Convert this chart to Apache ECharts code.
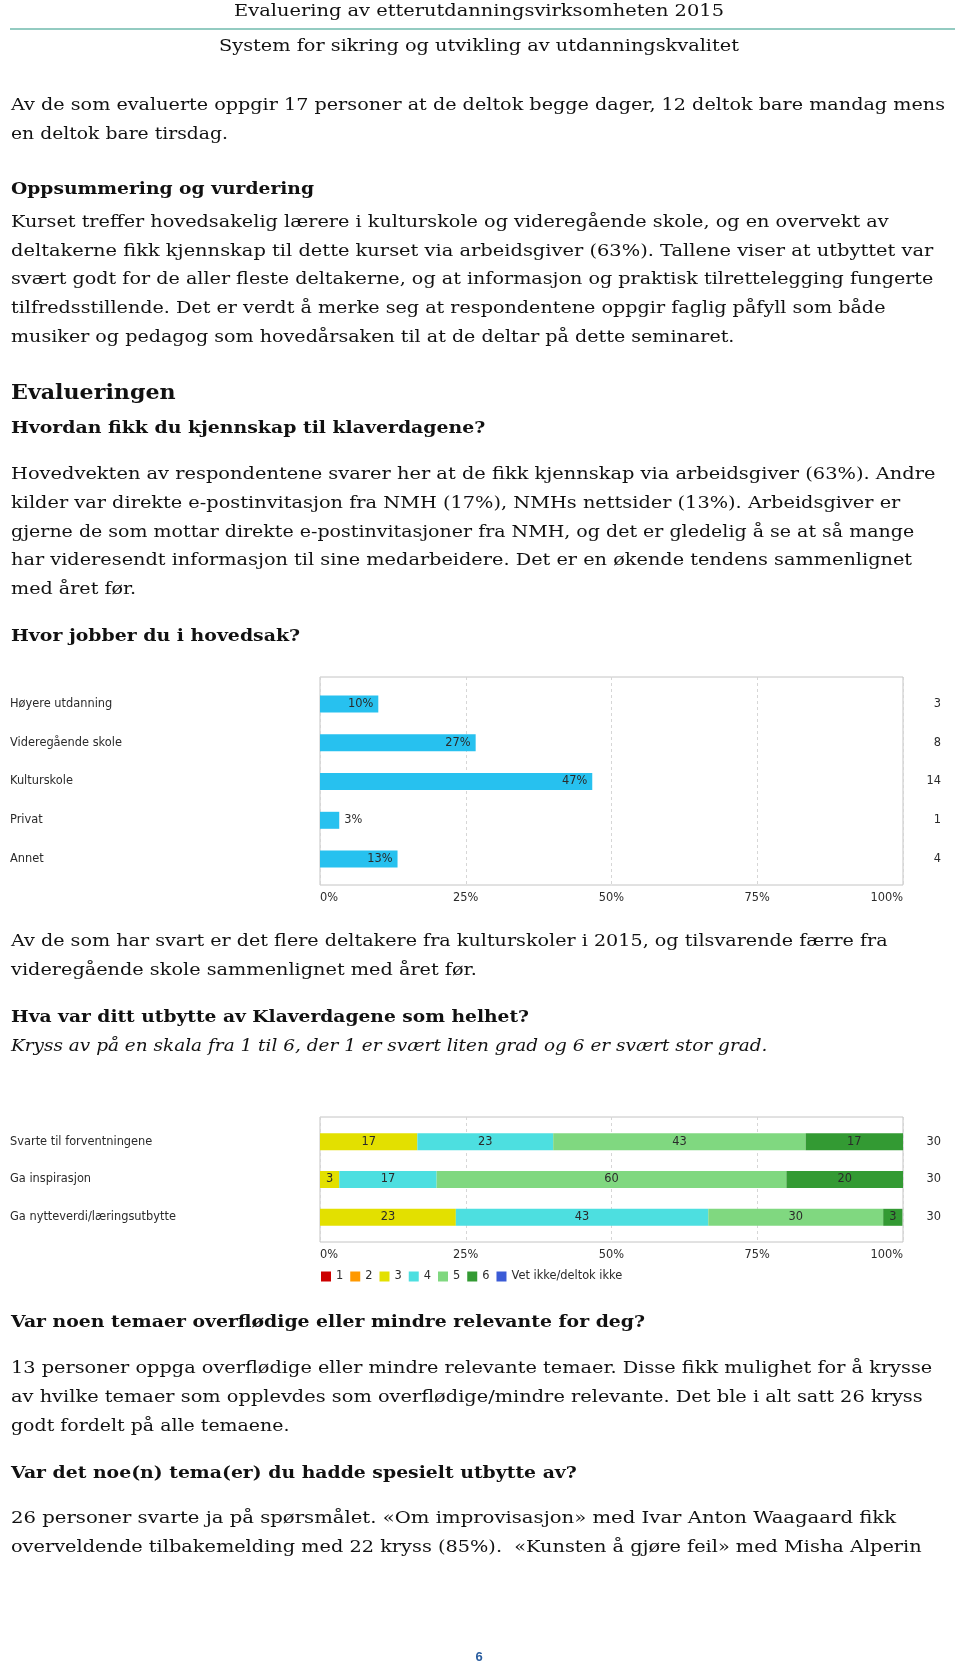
<!DOCTYPE html>
<html>
<head>
<meta charset="utf-8">
<script src="https://cdn.jsdelivr.net/npm/echarts/dist/echarts.min.js"></script>
<style>
  html, body { margin: 0; padding: 0; background: #fff; }
  #page { position: relative; width: 960px; height: 1669px; overflow: hidden; background: #fff; }
  #chart { position: absolute; left: 0; top: 0; width: 960px; height: 1669px; }
  #text { position: absolute; left: 0; top: 0; width: 960px; height: 1669px; pointer-events: none; }
  .ln { position: absolute; white-space: pre; font-family: "DejaVu Serif", serif; font-size: 16.5px;
        line-height: 28px; height: 28px; color: #111; transform-origin: 0 50%; }
  .b { font-weight: bold; }
  .i { font-style: italic; }
  .big { font-size: 20px; }
  #rule { position: absolute; left: 10px; top: 28px; width: 945px; height: 2px; background: #93cbc1; }
  #pnum { position: absolute; left: 0; width: 958px; top: 1649px; text-align: center;
          font-family: "Liberation Sans", sans-serif; font-weight: bold; font-size: 13px; color: #2a5d9f; }
</style>
</head>
<body>
<div id="page">
  <div id="chart"></div>
  <div id="text"><div id="rule"></div><div id="pnum">6</div></div>
</div>
<script>
// ---------- chart data ----------
const workCategories = ['Høyere utdanning', 'Videregående skole', 'Kulturskole', 'Privat', 'Annet'];
const workPercent = [10, 26.7, 46.7, 3.3, 13.3];
const workCounts = [3, 8, 14, 1, 4];

const benefitCategories = ['Svarte til forventningene', 'Ga inspirasjon', 'Ga nytteverdi/læringsutbytte'];
const scaleNames = ['1', '2', '3', '4', '5', '6', 'Vet ikke/deltok ikke'];
const scale1 = [0, 0, 0];
const scale2 = [0, 0, 0];
const scale3 = [16.7, 3.3, 23.3];
const scale4 = [23.3, 16.7, 43.3];
const scale5 = [43.3, 60, 30];
const scale6 = [16.7, 20, 3.3];
const scaleUnknown = [0, 0, 0];
const benefitTotals = [30, 30, 30];
const scaleColors = ['#cc0000', '#ff9900', '#e3e000', '#4ddfe0', '#80d880', '#339a33', '#3b5bd6'];

// ---------- page text ----------
const lines = [
  { t: 'Evaluering av etterutdanningsvirksomheten 2015', y: 10.6, x1: 234, x2: 724 },
  { t: 'System for sikring og utvikling av utdanningskvalitet', y: 45.8, x1: 219, x2: 739 },
  { t: 'Av de som evaluerte oppgir 17 personer at de deltok begge dager, 12 deltok bare mandag mens', y: 104.3, x2: 945 },
  { t: 'en deltok bare tirsdag.', y: 133, x2: 228 },
  { t: 'Oppsummering og vurdering', y: 188.4, x2: 314, c: 'b' },
  { t: 'Kurset treffer hovedsakelig lærere i kulturskole og videregående skole, og en overvekt av', y: 221.4, x2: 888.7 },
  { t: 'deltakerne fikk kjennskap til dette kurset via arbeidsgiver (63%). Tallene viser at utbyttet var', y: 250.1, x2: 933.4 },
  { t: 'svært godt for de aller fleste deltakerne, og at informasjon og praktisk tilrettelegging fungerte', y: 278.8, x2: 933.4 },
  { t: 'tilfredsstillende. Det er verdt å merke seg at respondentene oppgir faglig påfyll som både', y: 307.6, x2: 885.5 },
  { t: 'musiker og pedagog som hovedårsaken til at de deltar på dette seminaret.', y: 336.3, x2: 734.4 },
  { t: 'Evalueringen', y: 391.7, x2: 175.6, c: 'b big' },
  { t: 'Hvordan fikk du kjennskap til klaverdagene?', y: 427.9, x2: 485.3, c: 'b' },
  { t: 'Hovedvekten av respondentene svarer her at de fikk kjennskap via arbeidsgiver (63%). Andre', y: 473.6, x2: 935.5 },
  { t: 'kilder var direkte e-postinvitasjon fra NMH (17%), NMHs nettsider (13%). Arbeidsgiver er', y: 502.4, x2: 900.4 },
  { t: 'gjerne de som mottar direkte e-postinvitasjoner fra NMH, og det er gledelig å se at så mange', y: 531.1, x2: 914.2 },
  { t: 'har videresendt informasjon til sine medarbeidere. Det er en økende tendens sammenlignet', y: 559.8, x2: 912.1 },
  { t: 'med året før.', y: 588.5, x2: 136.2 },
  { t: 'Hvor jobber du i hovedsak?', y: 635.4, x2: 300.1, c: 'b' },
  { t: 'Av de som har svart er det flere deltakere fra kulturskoler i 2015, og tilsvarende færre fra', y: 940.8, x2: 887.6 },
  { t: 'videregående skole sammenlignet med året før.', y: 969.6, x2: 476.8 },
  { t: 'Hva var ditt utbytte av Klaverdagene som helhet?', y: 1016.4, x2: 529, c: 'b' },
  { t: 'Kryss av på en skala fra 1 til 6, der 1 er svært liten grad og 6 er svært stor grad.', y: 1045.1, x2: 767.4, c: 'i' },
  { t: 'Var noen temaer overflødige eller mindre relevante for deg?', y: 1321.9, x2: 645, c: 'b' },
  { t: '13 personer oppga overflødige eller mindre relevante temaer. Disse fikk mulighet for å krysse', y: 1367.6, x2: 932.3 },
  { t: 'av hvilke temaer som opplevdes som overflødige/mindre relevante. Det ble i alt satt 26 kryss', y: 1396.4, x2: 922.7 },
  { t: 'godt fordelt på alle temaene.', y: 1425.1, x2: 289.5 },
  { t: 'Var det noe(n) tema(er) du hadde spesielt utbytte av?', y: 1472, x2: 576.8, c: 'b' },
  { t: '26 personer svarte ja på spørsmålet. «Om improvisasjon» med Ivar Anton Waagaard fikk', y: 1517.7, x2: 896.1 },
  { t: 'overveldende tilbakemelding med 22 kryss (85%).  «Kunsten å gjøre feil» med Misha Alperin', y: 1546.4, x2: 921.7 }
];

function layoutText() {
  const host = document.getElementById('text');
  lines.forEach(l => {
    const d = document.createElement('div');
    d.className = 'ln ' + (l.c || '');
    d.textContent = l.t;
    const x1 = l.x1 !== undefined ? l.x1 : 11;
    d.style.left = x1 + 'px';
    d.style.top = (l.y - 13.5) + 'px';
    host.appendChild(d);
    const w = d.getBoundingClientRect().width;
    if (w > 0) d.style.transform = 'scaleX(' + ((l.x2 - x1) / w).toFixed(4) + ')';
  });
}

// ---------- chart ----------
const FONT = 'DejaVu Sans';
const FS = 11.4;
const TXT = '#2a2a2a';

function frameX(gi) {
  return {
    gridIndex: gi, type: 'value', min: 0, max: 100, interval: 25,
    axisLine: { show: false }, axisTick: { show: false },
    splitLine: { show: true, lineStyle: { type: [3, 3], color: '#d6d6d6', width: 1 } },
    axisLabel: { formatter: '{value}%', fontFamily: FONT, fontSize: FS, color: TXT, margin: 8,
                 alignMinLabel: 'left', alignMaxLabel: 'right' }
  };
}
function hiddenX(gi) { return { gridIndex: gi, type: 'value', min: 0, max: 100, show: false }; }
function catY(gi, data) {
  return {
    gridIndex: gi, type: 'category', data: data, inverse: true,
    axisLine: { show: false }, axisTick: { show: false }, splitLine: { show: false },
    axisLabel: { align: 'left', margin: 310, fontFamily: FONT, fontSize: FS, color: TXT }
  };
}
function rightY(gi, data) {
  return {
    gridIndex: gi, type: 'category', data: data.map(String), inverse: true, position: 'right',
    axisLine: { show: false }, axisTick: { show: false }, splitLine: { show: false },
    axisLabel: { align: 'right', margin: 38, fontFamily: FONT, fontSize: FS, color: TXT }
  };
}

const stackSeries = [scale1, scale2, scale3, scale4, scale5, scale6, scaleUnknown].map((arr, i) => ({
  name: scaleNames[i], type: 'bar', stack: 'benefit', xAxisIndex: 3, yAxisIndex: 4,
  barWidth: 17, data: arr, itemStyle: { color: scaleColors[i] },
  label: { show: true, position: 'inside', fontFamily: FONT, fontSize: FS, color: TXT,
           formatter: p => (p.value > 0 ? String(Math.round(p.value)) : '') },
  emphasis: { disabled: true }
}));

const option = {
  animation: false,
  grid: [
    { left: 320, top: 677, width: 583, height: 208, show: true, borderColor: '#c4c4c4', borderWidth: 1, backgroundColor: 'rgba(0,0,0,0)' },
    { left: 320, top: 684.5, width: 583, height: 194 },
    { left: 320, top: 1117, width: 583, height: 125, show: true, borderColor: '#c4c4c4', borderWidth: 1, backgroundColor: 'rgba(0,0,0,0)' },
    { left: 320, top: 1122.8, width: 583, height: 113.4 }
  ],
  xAxis: [frameX(0), hiddenX(1), frameX(2), hiddenX(3)],
  yAxis: [
    { gridIndex: 0, type: 'value', min: 0, max: 1, show: false },
    catY(1, workCategories),
    rightY(1, workCounts),
    { gridIndex: 2, type: 'value', min: 0, max: 1, show: false },
    catY(3, benefitCategories),
    rightY(3, benefitTotals)
  ],
  legend: {
    data: scaleNames, left: 321, top: 1271, padding: 0, icon: 'rect', itemWidth: 10, itemHeight: 10, itemGap: 7,
    textStyle: { fontFamily: FONT, fontSize: FS, color: TXT }, selectedMode: false
  },
  series: [
    {
      type: 'bar', xAxisIndex: 1, yAxisIndex: 1, barWidth: 17,
      data: workPercent.map(v => ({ value: v, label: { position: v < 5 ? 'right' : 'insideRight' } })),
      itemStyle: { color: '#27c1ef' },
      label: { show: true, fontFamily: FONT, fontSize: FS, color: TXT, distance: 5,
               formatter: p => Math.round(p.value) + '%' },
      emphasis: { disabled: true }
    }
  ].concat(stackSeries)
};

const chart = echarts.init(document.getElementById('chart'), null, { renderer: 'canvas' });
chart.setOption(option);

if (document.fonts && document.fonts.ready) {
  document.fonts.ready.then(layoutText);
} else {
  layoutText();
}
</script>
</body>
</html>
